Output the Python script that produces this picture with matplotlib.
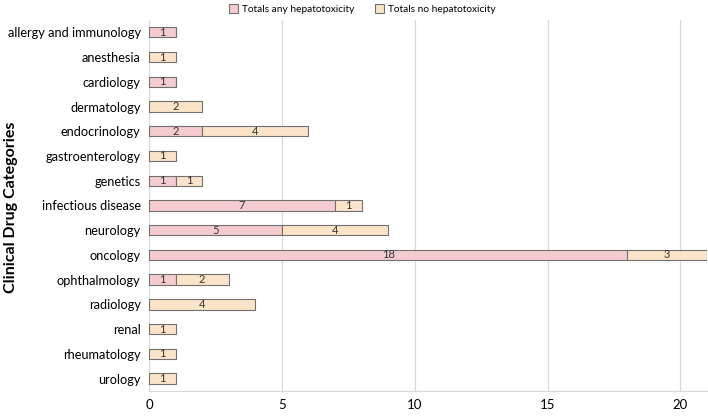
import matplotlib
matplotlib.use("Agg")
import matplotlib.pyplot as plt
import numpy as np

plt.rcParams['font.family'] = ['Lato', 'DejaVu Sans']

categories = ["allergy and immunology", "anesthesia", "cardiology", "dermatology",
              "endocrinology", "gastroenterology", "genetics", "infectious disease",
              "neurology", "oncology", "ophthalmology", "radiology", "renal",
              "rheumatology", "urology"]
any_hep = [1, 0, 1, 0, 2, 0, 1, 7, 5, 18, 1, 0, 0, 0, 0]
no_hep = [0, 1, 0, 2, 4, 1, 1, 1, 4, 3, 2, 4, 1, 1, 1]
xticks = [0, 5, 10, 15, 20]

fig = plt.figure(figsize=(7.08, 4.16), dpi=100)
ax = fig.add_axes([0.2105, 0.0601, 0.788, 0.892])

y = np.arange(len(categories))
c1 = "#F4CBCF"
c2 = "#FCE4C9"
ec = "#707070"
b1 = ax.barh(y, any_hep, height=0.42, color=c1, edgecolor=ec, linewidth=0.8,
             label="Totals any hepatotoxicity", zorder=3)
b2 = ax.barh(y, no_hep, left=any_hep, height=0.42, color=c2, edgecolor=ec, linewidth=0.8,
             label="Totals no hepatotoxicity", zorder=3)
for i in range(len(categories)):
    if any_hep[i] > 0:
        ax.text(any_hep[i] / 2, y[i], str(any_hep[i]), ha="center", va="center",
                fontsize=8, color="#333333", zorder=4)
    if no_hep[i] > 0:
        ax.text(any_hep[i] + no_hep[i] / 2, y[i], str(no_hep[i]), ha="center", va="center",
                fontsize=8, color="#333333", zorder=4)

ax.set_ylim(len(categories) - 0.5, -0.5)
ax.set_xlim(0, 21)
ax.set_yticks(y)
ax.set_yticklabels(categories, fontsize=9.2)
ax.set_xticks(xticks)
ax.tick_params(axis="x", labelsize=9.5, length=0, pad=6)
ax.tick_params(axis="y", length=0, pad=6)
ax.grid(axis="x", color="#d9d9d9", linewidth=0.9, zorder=0)
for s in ["top", "right"]:
    ax.spines[s].set_visible(False)
ax.spines["left"].set_color("#d9d9d9")
ax.spines["bottom"].set_color("#d9d9d9")
fig.text(11 / 708, 1 - 207 / 416, "Clinical Drug Categories", rotation=90,
         ha="center", va="center", fontsize=11.5, fontweight="bold")

fig.legend(handles=[b1, b2], loc="upper center", bbox_to_anchor=(0.5115, 1.012), ncol=2,
           frameon=False, fontsize=7.3, handlelength=0.9, handleheight=0.9,
           columnspacing=2.0, handletextpad=0.4)

fig.savefig("out.png", dpi=100)
